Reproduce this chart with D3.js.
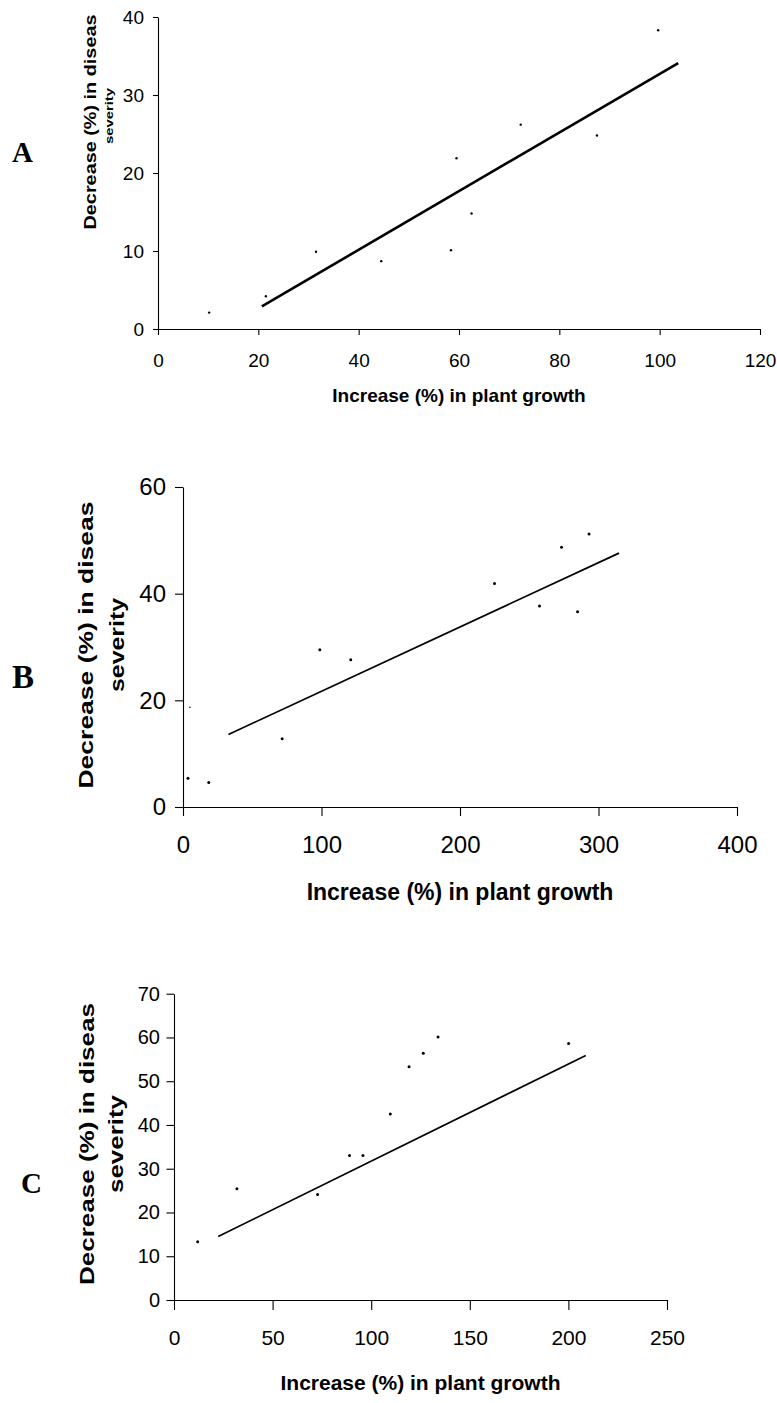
<!DOCTYPE html>
<html lang="en">
<head>
<meta charset="UTF-8">
<title>Plant growth vs disease severity</title>
<script src="https://cdn.jsdelivr.net/npm/d3@7"></script>
<style>
  body { margin: 0; background: #fff; }
  svg { display: block; }
  text { font-family: "Liberation Sans", Arial, sans-serif; fill: #000; }
  .panel-letter { font-family: "Liberation Serif", "Times New Roman", serif; font-weight: bold; }
  .axis-title { font-weight: bold; }
</style>
</head>
<body>
<div id="chart"></div>
<script>
// Panel A
const aGrowth   = [10.2, 21.5, 31.5, 44.5, 58.4, 59.5, 62.5, 72.3, 87.5, 99.7];
const aDecrease = [2.1, 4.2, 9.9, 8.7, 10.1, 21.9, 14.8, 26.2, 24.8, 38.3];
const aTrendX = [20.7, 103.7];
const aTrendY = [2.9, 34.1];
const aXTicks = [0, 20, 40, 60, 80, 100, 120];
const aYTicks = [0, 10, 20, 30, 40];

// Panel B
const bGrowth   = [3.6, 18.6, 71.6, 98.8, 121.1, 224.9, 257.4, 273.3, 284.9, 293.2];
const bDecrease = [5.4, 4.6, 12.8, 29.5, 27.6, 41.9, 37.7, 48.7, 36.6, 51.2];
const bStrayX = [5.0];
const bStrayY = [18.7];
const bTrendX = [32.8, 314.8];
const bTrendY = [13.6, 47.6];
const bXTicks = [0, 100, 200, 300, 400];
const bYTicks = [0, 20, 40, 60];

// Panel C
const cGrowth   = [12, 31.9, 72.8, 89, 95.8, 109.7, 119.2, 126.4, 133.9, 200.1];
const cDecrease = [13.3, 25.4, 24.1, 33, 33, 42.5, 53.3, 56.4, 60.1, 58.6];
const cTrendX = [22.4, 208.8];
const cTrendY = [14.5, 55.9];
const cXTicks = [0, 50, 100, 150, 200, 250];
const cYTicks = [0, 10, 20, 30, 40, 50, 60, 70];

const xTitle = 'Increase (%) in plant growth';
const yTitle = 'Decrease (%) in diseas';
const yTitle2 = 'severity';

const svg = d3.select('#chart').append('svg')
    .attr('width', 777)
    .attr('height', 1403);

svg.append('rect').attr('width', 777).attr('height', 1403).attr('fill', '#fff');

function drawPanel(p) {
    const x = d3.scaleLinear().domain(p.xDomain).range(p.xRange);
    const y = d3.scaleLinear().domain(p.yDomain).range(p.yRange);
    const g = svg.append('g');

    // axes
    const xAxis = d3.axisBottom(x).tickValues(p.xTicks).tickSizeInner(p.xTickSize)
        .tickSizeOuter(0).tickPadding(p.xTickPad).tickFormat(d3.format('d'));
    const yAxis = d3.axisLeft(y).tickValues(p.yTicks).tickSizeInner(p.yTickSize)
        .tickSizeOuter(0).tickPadding(p.yTickPad).tickFormat(d3.format('d'));

    g.append('g')
        .attr('transform', `translate(0,${p.yRange[0]})`)
        .call(xAxis)
        .call(a => a.selectAll('text').style('font-size', p.xTickFont + 'px').attr('font-family', null));
    g.append('g')
        .attr('transform', `translate(${p.xRange[0]},0)`)
        .call(yAxis)
        .call(a => a.selectAll('text').style('font-size', p.yTickFont + 'px').attr('font-family', null));
    g.selectAll('.domain, .tick line').attr('stroke', '#000').attr('stroke-width', 1.1);

    // trend line
    g.append('line')
        .attr('x1', x(p.trendX[0])).attr('y1', y(p.trendY[0]))
        .attr('x2', x(p.trendX[1])).attr('y2', y(p.trendY[1]))
        .attr('stroke', '#000')
        .attr('stroke-width', p.lineWidth);

    // points
    g.selectAll('circle.dot')
        .data(p.growth.map((v, i) => [v, p.decrease[i]]))
        .enter().append('circle')
        .attr('class', 'dot')
        .attr('cx', d => x(d[0]))
        .attr('cy', d => y(d[1]))
        .attr('r', p.dotR)
        .attr('fill', '#000');

    if (p.strayX) {
        g.selectAll('circle.stray')
            .data(p.strayX.map((v, i) => [v, p.strayY[i]]))
            .enter().append('circle')
            .attr('class', 'stray')
            .attr('cx', d => x(d[0]))
            .attr('cy', d => y(d[1]))
            .attr('r', 0.8)
            .attr('fill', '#000');
    }

    // titles
    g.append('text')
        .attr('class', 'axis-title')
        .attr('x', (p.xRange[0] + p.xRange[1]) / 2)
        .attr('y', p.xTitleY)
        .attr('text-anchor', 'middle')
        .style('font-size', p.xTitleFont + 'px')
        .text(xTitle);

    g.append('text')
        .attr('class', 'axis-title')
        .attr('transform', `translate(${p.yTitleX},${p.yTitleCy}) rotate(-90)`)
        .attr('text-anchor', 'middle')
        .attr('textLength', p.yTitleLen)
        .attr('lengthAdjust', 'spacingAndGlyphs')
        .style('font-size', p.yTitleFont + 'px')
        .text(yTitle);

    g.append('text')
        .attr('class', 'axis-title')
        .attr('transform', `translate(${p.yTitle2X},${p.yTitle2Cy}) rotate(-90)`)
        .attr('text-anchor', 'middle')
        .attr('textLength', p.yTitle2Len)
        .attr('lengthAdjust', 'spacingAndGlyphs')
        .style('font-size', p.yTitle2Font + 'px')
        .text(yTitle2);

    g.append('text')
        .attr('class', 'panel-letter')
        .attr('x', p.letterX)
        .attr('y', p.letterY)
        .style('font-size', p.letterFont + 'px')
        .text(p.letter);
}

drawPanel({
    letter: 'A', letterX: 12, letterY: 162, letterFont: 29,
    growth: aGrowth, decrease: aDecrease, trendX: aTrendX, trendY: aTrendY,
    xTicks: aXTicks, yTicks: aYTicks,
    xDomain: [0, 120], xRange: [158, 760],
    yDomain: [0, 40], yRange: [329, 17],
    xTickSize: 6, xTickPad: 19, xTickFont: 19,
    yTickSize: 5, yTickPad: 9, yTickFont: 19,
    xTitleY: 402, xTitleFont: 19,
    yTitleX: 96, yTitleCy: 122, yTitleLen: 215, yTitleFont: 17,
    yTitle2X: 113, yTitle2Cy: 116, yTitle2Len: 56, yTitle2Font: 10,
    lineWidth: 2.6, dotR: 1.2
});

drawPanel({
    letter: 'B', letterX: 12, letterY: 688, letterFont: 33,
    growth: bGrowth, decrease: bDecrease, trendX: bTrendX, trendY: bTrendY,
    strayX: bStrayX, strayY: bStrayY,
    xTicks: bXTicks, yTicks: bYTicks,
    xDomain: [0, 400], xRange: [183, 737],
    yDomain: [0, 60], yRange: [807, 487],
    xTickSize: 9, xTickPad: 20, xTickFont: 24,
    yTickSize: 8, yTickPad: 9, yTickFont: 24,
    xTitleY: 900, xTitleFont: 23,
    yTitleX: 92.5, yTitleCy: 645, yTitleLen: 287, yTitleFont: 21,
    yTitle2X: 124, yTitle2Cy: 645, yTitle2Len: 94, yTitle2Font: 19.5,
    lineWidth: 1.7, dotR: 1.5
});

drawPanel({
    letter: 'C', letterX: 21, letterY: 1193, letterFont: 29,
    growth: cGrowth, decrease: cDecrease, trendX: cTrendX, trendY: cTrendY,
    xTicks: cXTicks, yTicks: cYTicks,
    xDomain: [0, 250], xRange: [174, 667],
    yDomain: [0, 70], yRange: [1300, 993.7],
    xTickSize: 10, xTickPad: 20, xTickFont: 21,
    yTickSize: 7.5, yTickPad: 6.5, yTickFont: 20,
    xTitleY: 1390, xTitleFont: 21,
    yTitleX: 94, yTitleCy: 1144, yTitleLen: 282, yTitleFont: 21,
    yTitle2X: 123, yTitle2Cy: 1144, yTitle2Len: 98, yTitle2Font: 20,
    lineWidth: 1.7, dotR: 1.5
});
</script>
</body>
</html>
